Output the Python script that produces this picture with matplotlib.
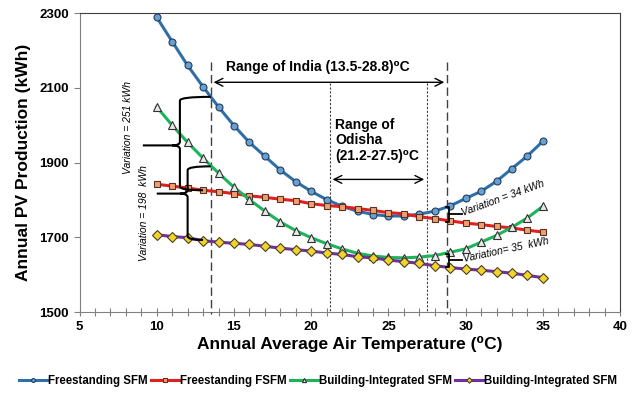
import matplotlib
matplotlib.use("Agg")
import matplotlib.pyplot as plt
from matplotlib.path import Path
from matplotlib.patches import PathPatch
from matplotlib.ticker import MultipleLocator

plt.rcParams['font.family'] = ['Liberation Sans', 'DejaVu Sans']

temps = list(range(10, 36))
freestanding_sfm = [2289, 2224, 2160, 2103, 2049, 1999, 1954, 1917, 1880, 1849, 1823, 1801, 1783,
                    1770, 1761, 1757, 1757, 1762, 1770, 1784, 1804, 1823, 1850, 1884, 1918, 1957]
freestanding_fsfm = [1842, 1837, 1832, 1826, 1822, 1817, 1811, 1807, 1802, 1798, 1790, 1785, 1782,
                     1777, 1772, 1766, 1763, 1755, 1750, 1744, 1738, 1734, 1729, 1725, 1719, 1714]
bi_sfm = [2049, 2000, 1954, 1912, 1872, 1834, 1801, 1770, 1741, 1718, 1699, 1683, 1669,
          1657, 1650, 1646, 1645, 1647, 1651, 1660, 1669, 1687, 1705, 1727, 1752, 1783]
bi_sfm2 = [1707, 1702, 1699, 1691, 1687, 1684, 1681, 1676, 1671, 1667, 1663, 1658, 1654,
           1648, 1645, 1639, 1635, 1630, 1624, 1619, 1615, 1612, 1608, 1604, 1598, 1592]
labels = ['Freestanding SFM', 'Freestanding FSFM', 'Building-Integrated SFM', 'Building-Integrated SFM']
y_ticks = [1500, 1700, 1900, 2100, 2300]
x_ticks = [5, 10, 15, 20, 25, 30, 35, 40]

india_range = (13.5, 28.8)
odisha_range = (21.2, 27.5)

fig = plt.figure(figsize=(6.36, 3.99), dpi=100)
ax = fig.add_axes([0.125, 0.218, 0.85, 0.749])

ax.plot(temps, freestanding_sfm, color='#2F6FA8', lw=2.2, marker='o', ms=5,
        mfc='#6A9FD0', mec='#1F3F5F', mew=0.8, label=labels[0], zorder=4)
ax.plot(temps, freestanding_fsfm, color='#E02020', lw=2.2, marker='s', ms=5,
        mfc='#F0A070', mec='#5A3020', mew=0.8, label=labels[1], zorder=4)
ax.plot(temps, bi_sfm, color='#1DB35A', lw=2.2, marker='^', ms=5.5,
        mfc='#E8E8E8', mec='#303030', mew=0.8, label=labels[2], zorder=4)
ax.plot(temps, bi_sfm2, color='#7030A0', lw=2.2, marker='D', ms=5,
        mfc='#F2D22E', mec='#4A4020', mew=0.8, label=labels[3], zorder=4)

ax.set_xlim(5, 40)
ax.set_ylim(1500, 2300)
ax.set_xticks(x_ticks)
ax.set_yticks(y_ticks)
ax.xaxis.set_minor_locator(MultipleLocator(1))
ax.tick_params(axis='x', which='both', direction='inout', length=6, width=0.8, color='#808080')
ax.tick_params(axis='y', which='major', direction='out', length=4, width=0.8, color='#808080')
ax.tick_params(labelsize=9.5)
for lab in ax.get_xticklabels() + ax.get_yticklabels():
    lab.set_fontweight('bold')
for s in ['left', 'bottom']:
    ax.spines[s].set_color('#808080')
for s in ['top', 'right']:
    ax.spines[s].set_color('#404040')

ax.set_xlabel('Annual Average Air Temperature (\u2070C)', fontsize=12.5, fontweight='bold', labelpad=2)
ax.set_ylabel('Annual PV Production (kWh)', fontsize=12.5, fontweight='bold', labelpad=6)

# range lines
for xv in india_range:
    ax.plot([xv, xv], [2169, 1495], color='#404040', lw=1, ls=(0, (6, 3)), clip_on=False, zorder=3)
for xv in odisha_range:
    ax.plot([xv, xv], [2113, 1500], color='#404040', lw=0.8, ls=(0, (2, 1.5)), zorder=3)

ax.annotate('', xy=(india_range[0], 2115), xytext=(india_range[1], 2115),
            arrowprops=dict(arrowstyle='<->', lw=1, color='black', mutation_scale=14))
ax.annotate('', xy=(odisha_range[0], 1855), xytext=(odisha_range[1], 1855),
            arrowprops=dict(arrowstyle='<->', lw=1, color='black', mutation_scale=14))
ax.text(14.5, 2156, 'Range of India (13.5-28.8)\u2070C', fontsize=10, fontweight='bold', va='center', ha='left')
ax.text(21.55, 1960, 'Range of\nOdisha\n(21.2-27.5)\u2070C', fontsize=10, fontweight='bold',
        va='center', ha='left', linespacing=1.15)


def brace(xe_top, yt, xs, xt, ym, yb, xe_bot, rx=0.25, ry=10):
    verts = [(xe_top, yt), (xs, yt), (xs, yt - ry),
             (xs, ym + ry), (xs, ym), (xs - rx * 2, ym),
             (xt, ym),
             (xs - rx * 2, ym), (xs, ym), (xs, ym - ry),
             (xs, yb + ry), (xs, yb), (xe_bot, yb)]
    codes = [Path.MOVETO, Path.CURVE3, Path.CURVE3,
             Path.LINETO, Path.CURVE3, Path.CURVE3,
             Path.LINETO,
             Path.MOVETO, Path.CURVE3, Path.CURVE3,
             Path.LINETO, Path.CURVE3, Path.CURVE3]
    ax.add_patch(PathPatch(Path(verts, codes), fill=False, lw=1.5, color='black', zorder=5))


brace(13.5, 2076, 11.5, 9.1, 1946, 1826, 13.0)
brace(13.5, 1890, 12.0, 10.0, 1817, 1693, 13.0)

ax.text(8.15, 1993, 'Variation = 251 kWh', rotation=90, fontsize=7.5, style='italic', ha='center', va='center')
ax.text(9.15, 1764, 'Variation = 198  kWh', rotation=90, fontsize=7.5, style='italic', ha='center', va='center')


def small_bracket(x, yt, yb, ym, xl, xr):
    ax.plot([xl, x, x, xl], [yt, yt, yb, yb], color='black', lw=1.3, zorder=5)
    ax.plot([x, xr], [ym, ym], color='black', lw=1.3, zorder=5)


small_bracket(28.95, 1781, 1741, 1763, 28.7, 29.75)
small_bracket(28.95, 1656, 1620, 1638, 28.7, 29.75)
ax.text(29.9, 1752, 'Variation = 34 kWh', rotation=20, fontsize=7.5, style='italic', ha='left', va='bottom',
        rotation_mode='anchor')
ax.text(29.9, 1628, 'Variation= 35  kWh', rotation=12, fontsize=7.5, style='italic', ha='left', va='bottom',
        rotation_mode='anchor')

leg = fig.legend(loc='lower center', bbox_to_anchor=(0.5, 0.005), ncol=4, frameon=False,
                 fontsize=8.3, handlelength=2.4, handletextpad=0.1, columnspacing=0.3, markerscale=0.55)
for t in leg.get_texts():
    t.set_fontweight('bold')

fig.savefig('out.png', dpi=100)
